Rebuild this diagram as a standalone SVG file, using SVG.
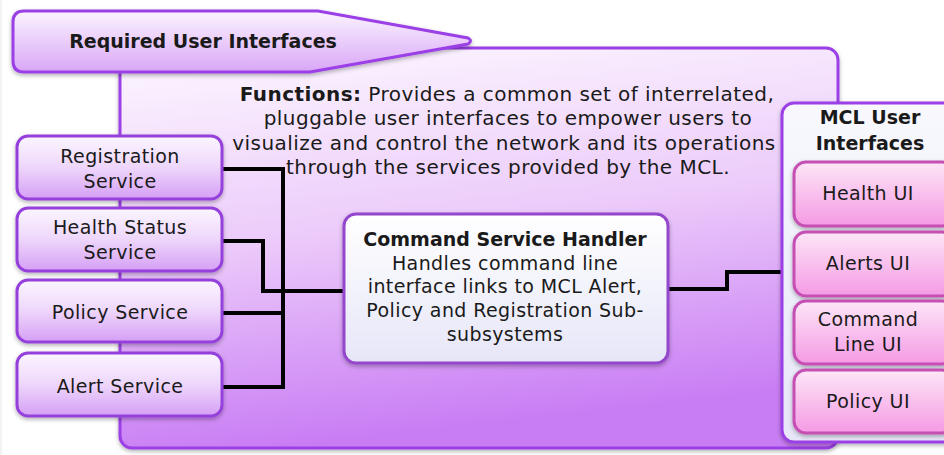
<svg xmlns="http://www.w3.org/2000/svg" width="944" height="455" viewBox="0 0 944 455">
<defs>
<linearGradient id="gMain" x1="0" y1="0" x2="0.2" y2="1"><stop offset="0" stop-color="#fdf8ff"/><stop offset="0.5" stop-color="#eccbfa"/><stop offset="1" stop-color="#c97df4"/></linearGradient>
<linearGradient id="gHead" x1="0" y1="0" x2="0" y2="1"><stop offset="0" stop-color="#fbf4ff"/><stop offset="1" stop-color="#d9a6f6"/></linearGradient>
<linearGradient id="gSvc" x1="0" y1="0" x2="0" y2="1"><stop offset="0" stop-color="#fbf6ff"/><stop offset="0.5" stop-color="#eed6fb"/><stop offset="1" stop-color="#d59ff5"/></linearGradient>
<linearGradient id="gCmd" x1="0" y1="0" x2="0" y2="1"><stop offset="0" stop-color="#ffffff"/><stop offset="1" stop-color="#e6e6f8"/></linearGradient>
<linearGradient id="gPanel" x1="0" y1="0" x2="0" y2="1"><stop offset="0" stop-color="#f8f8fe"/><stop offset="1" stop-color="#e6e6f8"/></linearGradient>
<linearGradient id="gPink" x1="0" y1="0" x2="0" y2="1"><stop offset="0" stop-color="#fde6f7"/><stop offset="1" stop-color="#f59ae4"/></linearGradient>
<filter id="sh" x="-10%" y="-10%" width="130%" height="130%"><feDropShadow dx="0" dy="2" stdDeviation="2" flood-color="#000" flood-opacity="0.3"/></filter>
</defs>
<style>
.t{font-family:"DejaVu Sans","Noto Sans",sans-serif;fill:#1a1a1a;text-anchor:middle;font-size:19px;letter-spacing:0.4px}
.f{font-size:20px;letter-spacing:0.45px}
.b{font-weight:bold}
.svc{fill:url(#gSvc);stroke:#9640dc;stroke-width:3}
.pink{fill:url(#gPink);stroke:#c64fb4;stroke-width:3}
.wire{fill:none;stroke:#000;stroke-width:4;stroke-linejoin:miter}
</style>
<rect x="0" y="0" width="944" height="455" fill="#ffffff"/>
<line x1="1" y1="0" x2="1" y2="455" stroke="#e6e6e6"/>
<g id="main">
<rect x="120" y="48" width="718" height="400" rx="12" fill="url(#gMain)" stroke="#9b3fe6" stroke-width="3" filter="url(#sh)"/>
<text class="t f" y="101" x="507"><tspan class="b">Functions:</tspan> Provides a common set of interrelated,</text>
<text class="t f" y="125" x="508">pluggable user interfaces to empower users to</text>
<text class="t f" y="150" x="504">visualize and control the network and its operations</text>
<text class="t f" y="174" x="508">through the services provided by the MCL.</text>
</g>
<g id="header">
<path d="M24,11 L318,11 L468,38 Q473,41 468,44 L310,72 L24,72 Q13,72 13,61 L13,22 Q13,11 24,11 Z" fill="url(#gHead)" stroke="#9b3fe6" stroke-width="3" filter="url(#sh)"/>
<text class="t b" x="203" y="48" style="letter-spacing:0">Required User Interfaces</text>
</g>
<g id="connectors">
<path class="wire" d="M222,169 H283 V387 H222"/>
<path class="wire" d="M222,313 H283"/>
<path class="wire" d="M222,241 H263 V291 H345"/>
<path class="wire" d="M668,289 H727 V272 H783"/>
</g>
<g id="registration">
<rect class="svc" x="17" y="136" width="205" height="63" rx="11" filter="url(#sh)"/>
<text class="t" x="120" y="163">Registration</text>
<text class="t" x="120" y="188">Service</text>
</g>
<g id="health-status">
<rect class="svc" x="17" y="208" width="205" height="63" rx="11" filter="url(#sh)"/>
<text class="t" x="120" y="234">Health Status</text>
<text class="t" x="120" y="259">Service</text>
</g>
<g id="policy">
<rect class="svc" x="17" y="280" width="205" height="62" rx="11" filter="url(#sh)"/>
<text class="t" x="120" y="319">Policy Service</text>
</g>
<g id="alert">
<rect class="svc" x="17" y="353" width="205" height="63" rx="11" filter="url(#sh)"/>
<text class="t" x="120" y="393">Alert Service</text>
</g>
<g id="command-handler">
<rect x="344" y="214" width="324" height="149" rx="12" fill="url(#gCmd)" stroke="#9446cc" stroke-width="3" filter="url(#sh)"/>
<text class="t b" x="505" y="246" style="letter-spacing:0">Command Service Handler</text>
<text class="t" x="505" y="270">Handles command line</text>
<text class="t" x="505" y="293">interface links to MCL Alert,</text>
<text class="t" x="505" y="317">Policy and Registration Sub-</text>
<text class="t" x="505" y="341">subsystems</text>
</g>
<g id="mcl-panel">
<rect x="782" y="103" width="180" height="339" rx="12" fill="url(#gPanel)" stroke="#9b3fe6" stroke-width="3" filter="url(#sh)"/>
<text class="t b" x="870" y="124" style="letter-spacing:0">MCL User</text>
<text class="t b" x="870" y="150" style="letter-spacing:0">Interfaces</text>
</g>
<g id="health-ui">
<rect class="pink" x="794" y="162" width="160" height="64" rx="12" filter="url(#sh)"/>
<text class="t" x="868" y="200">Health UI</text>
</g>
<g id="alerts-ui">
<rect class="pink" x="794" y="232" width="160" height="64" rx="12" filter="url(#sh)"/>
<text class="t" x="868" y="270">Alerts UI</text>
</g>
<g id="command-line-ui">
<rect class="pink" x="794" y="301" width="160" height="63" rx="12" filter="url(#sh)"/>
<text class="t" x="868" y="326">Command</text>
<text class="t" x="868" y="351">Line UI</text>
</g>
<g id="policy-ui">
<rect class="pink" x="794" y="370" width="160" height="63" rx="12" filter="url(#sh)"/>
<text class="t" x="868" y="408">Policy UI</text>
</g>
</svg>
